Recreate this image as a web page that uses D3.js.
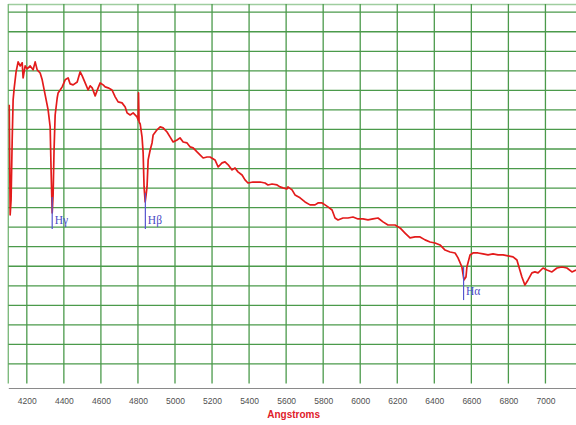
<!DOCTYPE html>
<html>
<head>
<meta charset="utf-8">
<script src="https://cdn.jsdelivr.net/npm/d3@7"></script>
<style>
  html, body { margin: 0; padding: 0; background: #ffffff; }
  svg { display: block; }
</style>
</head>
<body>
<div id="chart"></div>
<script>
// Stellar spectrum: relative flux against wavelength (Angstroms)
const wavelength = [
  4105, 4110, 4115, 4121, 4126, 4132, 4142, 4153, 4164, 4175, 4180, 4191, 4202, 4218, 4234, 4245,
  4256, 4272, 4283, 4299, 4315, 4326, 4331, 4337, 4342, 4347, 4353, 4364, 4369, 4380, 4391, 4407,
  4423, 4434, 4450, 4472, 4488, 4499, 4515, 4531, 4542, 4553, 4569, 4585, 4596, 4612, 4623, 4639,
  4660, 4677, 4693, 4714, 4731, 4741, 4758, 4774, 4795, 4801, 4803, 4806, 4812, 4822, 4828, 4833,
  4839, 4844, 4849, 4855, 4866, 4876, 4882, 4903, 4920, 4936, 4957, 4973, 4990, 5011, 5027, 5044,
  5065, 5081, 5098, 5119, 5135, 5152, 5173, 5189, 5216, 5233, 5254, 5270, 5287, 5308, 5324, 5340,
  5362, 5378, 5394, 5421, 5459, 5486, 5502, 5524, 5551, 5567, 5583, 5605, 5610, 5632, 5648, 5675,
  5702, 5729, 5756, 5772, 5794, 5810, 5826, 5848, 5864, 5880, 5907, 5934, 5961, 5988, 6015, 6042,
  6069, 6096, 6123, 6150, 6161, 6188, 6215, 6242, 6269, 6296, 6323, 6350, 6377, 6404, 6431, 6458,
  6485, 6512, 6528, 6549, 6560, 6571, 6576, 6593, 6609, 6636, 6663, 6690, 6717, 6744, 6771, 6798,
  6825, 6846, 6857, 6873, 6889, 6906, 6927, 6943, 6960, 6987, 7008, 7035, 7062, 7089, 7116, 7143,
  7165
];
const flux = [
  14.26, 8.63, 9.39, 12.46, 14.51, 15.13, 15.95, 16.46, 16.25, 16.41, 15.64, 16.25, 16.10, 16.25, 16.05, 16.46,
  16.05, 15.89, 15.54, 14.77, 14.00, 13.13, 10.93, 8.73, 9.65, 11.95, 13.74, 14.61, 14.87, 15.02, 15.18, 15.54,
  15.64, 15.33, 15.28, 15.43, 15.95, 15.74, 15.38, 15.02, 15.23, 15.13, 14.72, 15.13, 15.38, 15.28, 15.18, 15.13,
  15.02, 14.67, 14.41, 14.36, 14.15, 13.85, 13.74, 13.85, 13.64, 13.49, 14.87, 13.39, 13.28, 12.62, 11.80, 10.06,
  9.29, 9.65, 10.06, 11.44, 11.95, 12.31, 12.72, 12.98, 13.13, 13.08, 12.87, 12.62, 12.36, 12.46, 12.57, 12.36,
  12.31, 12.11, 12.06, 11.85, 11.70, 11.54, 11.59, 11.59, 11.44, 11.08, 11.29, 11.34, 11.19, 10.93, 11.03, 10.83,
  10.67, 10.42, 10.26, 10.31, 10.31, 10.26, 10.16, 10.21, 10.16, 10.06, 10.01, 9.96, 10.06, 9.91, 9.65, 9.50,
  9.29, 9.14, 9.14, 9.24, 9.24, 9.14, 9.04, 8.88, 8.47, 8.37, 8.47, 8.47, 8.52, 8.42, 8.42, 8.37,
  8.42, 8.47, 8.27, 8.11, 8.11, 8.11, 7.96, 7.70, 7.45, 7.50, 7.50, 7.35, 7.24, 7.19, 7.09, 6.83,
  6.73, 6.68, 6.43, 5.96, 5.30, 5.45, 5.96, 6.58, 6.68, 6.68, 6.63, 6.58, 6.63, 6.58, 6.58, 6.53,
  6.48, 6.32, 5.96, 5.45, 5.04, 5.30, 5.66, 5.71, 5.66, 5.91, 5.81, 5.71, 5.91, 5.96, 5.91, 5.71,
  5.81
];

// Hydrogen Balmer line markers
const lineNames = ["H\u03B3", "H\u03B2", "H\u03B1"];
const lineWavelengths = [4337, 4840, 6558];
const lineTopFlux = [9.55, 9.75, 5.96];
const lineBottomFlux = [7.90, 7.90, 4.27];

// Axis ticks
const tickValues = [4200, 4400, 4600, 4800, 5000, 5200, 5400, 5600, 5800, 6000, 6200, 6400, 6600, 6800, 7000];
const fluxGrid = d3.range(1, 20);
const xDomain = [4100, 7165];
const yDomain = [0, 19.42];
const xTitle = "Angstroms";

const W = 576, H = 425;
const plot = { left: 8.3, right: 576, top: 4, bottom: 383.5 };
const axisY = 388;

const svg = d3.select("#chart").append("svg")
  .attr("width", W).attr("height", H);

const x = d3.scaleLinear().domain(xDomain).range([plot.left, plot.right]);
const y = d3.scaleLinear().domain(yDomain).range([plot.bottom, plot.top]);

svg.append("defs").append("clipPath").attr("id", "plotclip")
  .append("rect")
  .attr("x", plot.left).attr("y", plot.top)
  .attr("width", plot.right - plot.left).attr("height", plot.bottom - plot.top);

const gridColor = "#4b9a4b";
const grid = svg.append("g");

// top and left frame lines
grid.append("line")
  .attr("x1", plot.left).attr("x2", plot.right)
  .attr("y1", plot.top + 0.5).attr("y2", plot.top + 0.5)
  .attr("stroke", "#9fcd9f").attr("stroke-width", 1.4);
grid.append("line")
  .attr("x1", plot.left).attr("x2", plot.left)
  .attr("y1", plot.top).attr("y2", plot.bottom)
  .attr("stroke", "#7fbb7f").attr("stroke-width", 1.4);

// horizontal grid
grid.selectAll("line.h").data(fluxGrid).join("line")
  .attr("class", "h")
  .attr("x1", plot.left).attr("x2", plot.right)
  .attr("y1", d => y(d)).attr("y2", d => y(d))
  .attr("stroke", gridColor).attr("stroke-width", 1.3);

// vertical grid
grid.selectAll("line.v").data(tickValues).join("line")
  .attr("class", "v")
  .attr("x1", d => x(d)).attr("x2", d => x(d))
  .attr("y1", plot.top).attr("y2", plot.bottom)
  .attr("stroke", gridColor).attr("stroke-width", 1.3);

// x axis
const xAxis = d3.axisBottom(x)
  .tickValues(tickValues)
  .tickSize(0)
  .tickSizeOuter(0)
  .tickPadding(10)
  .tickFormat(d3.format("d"));

const gx = svg.append("g")
  .attr("transform", `translate(0,${axisY})`)
  .call(xAxis);
gx.select(".domain").attr("stroke", "#8a8a8a").attr("stroke-width", 1.2);
gx.selectAll("text")
  .attr("fill", "#505050")
  .style("font-family", "'Liberation Sans', Arial, sans-serif")
  .style("font-size", "8.5px");

// axis title, centred under the plot
svg.append("text")
  .attr("x", (plot.left + plot.right) / 2 + 1.5)
  .attr("y", 417.5)
  .attr("text-anchor", "middle")
  .attr("fill", "#e0202a")
  .style("font-family", "'Liberation Sans', Arial, sans-serif")
  .style("font-weight", "bold")
  .style("font-size", "10px")
  .text(xTitle);

// spectrum
const spectrum = wavelength.map((w, i) => ({ w, f: flux[i] }));
const line = d3.line().x(d => x(d.w)).y(d => y(d.f));

svg.append("g").attr("clip-path", "url(#plotclip)")
  .append("path")
  .datum(spectrum)
  .attr("d", line)
  .attr("fill", "none")
  .attr("stroke", "#e31b1b")
  .attr("stroke-width", 1.7)
  .attr("stroke-linejoin", "round");

// Balmer line markers
const markers = lineNames.map((name, i) => ({
  name, w: lineWavelengths[i], top: lineTopFlux[i], bottom: lineBottomFlux[i]
}));
const mg = svg.append("g");
mg.selectAll("line").data(markers).join("line")
  .attr("x1", d => x(d.w)).attr("x2", d => x(d.w))
  .attr("y1", d => y(d.top)).attr("y2", d => y(d.bottom))
  .attr("stroke", "#5555d0").attr("stroke-width", 1.2);
mg.selectAll("text").data(markers).join("text")
  .attr("x", d => x(d.w) + 2.5)
  .attr("y", d => y(d.bottom) - 5)
  .attr("fill", "#4a4ac4")
  .style("font-family", "'Liberation Serif', 'Times New Roman', serif")
  .style("font-size", "11.5px")
  .text(d => d.name);
</script>
</body>
</html>
